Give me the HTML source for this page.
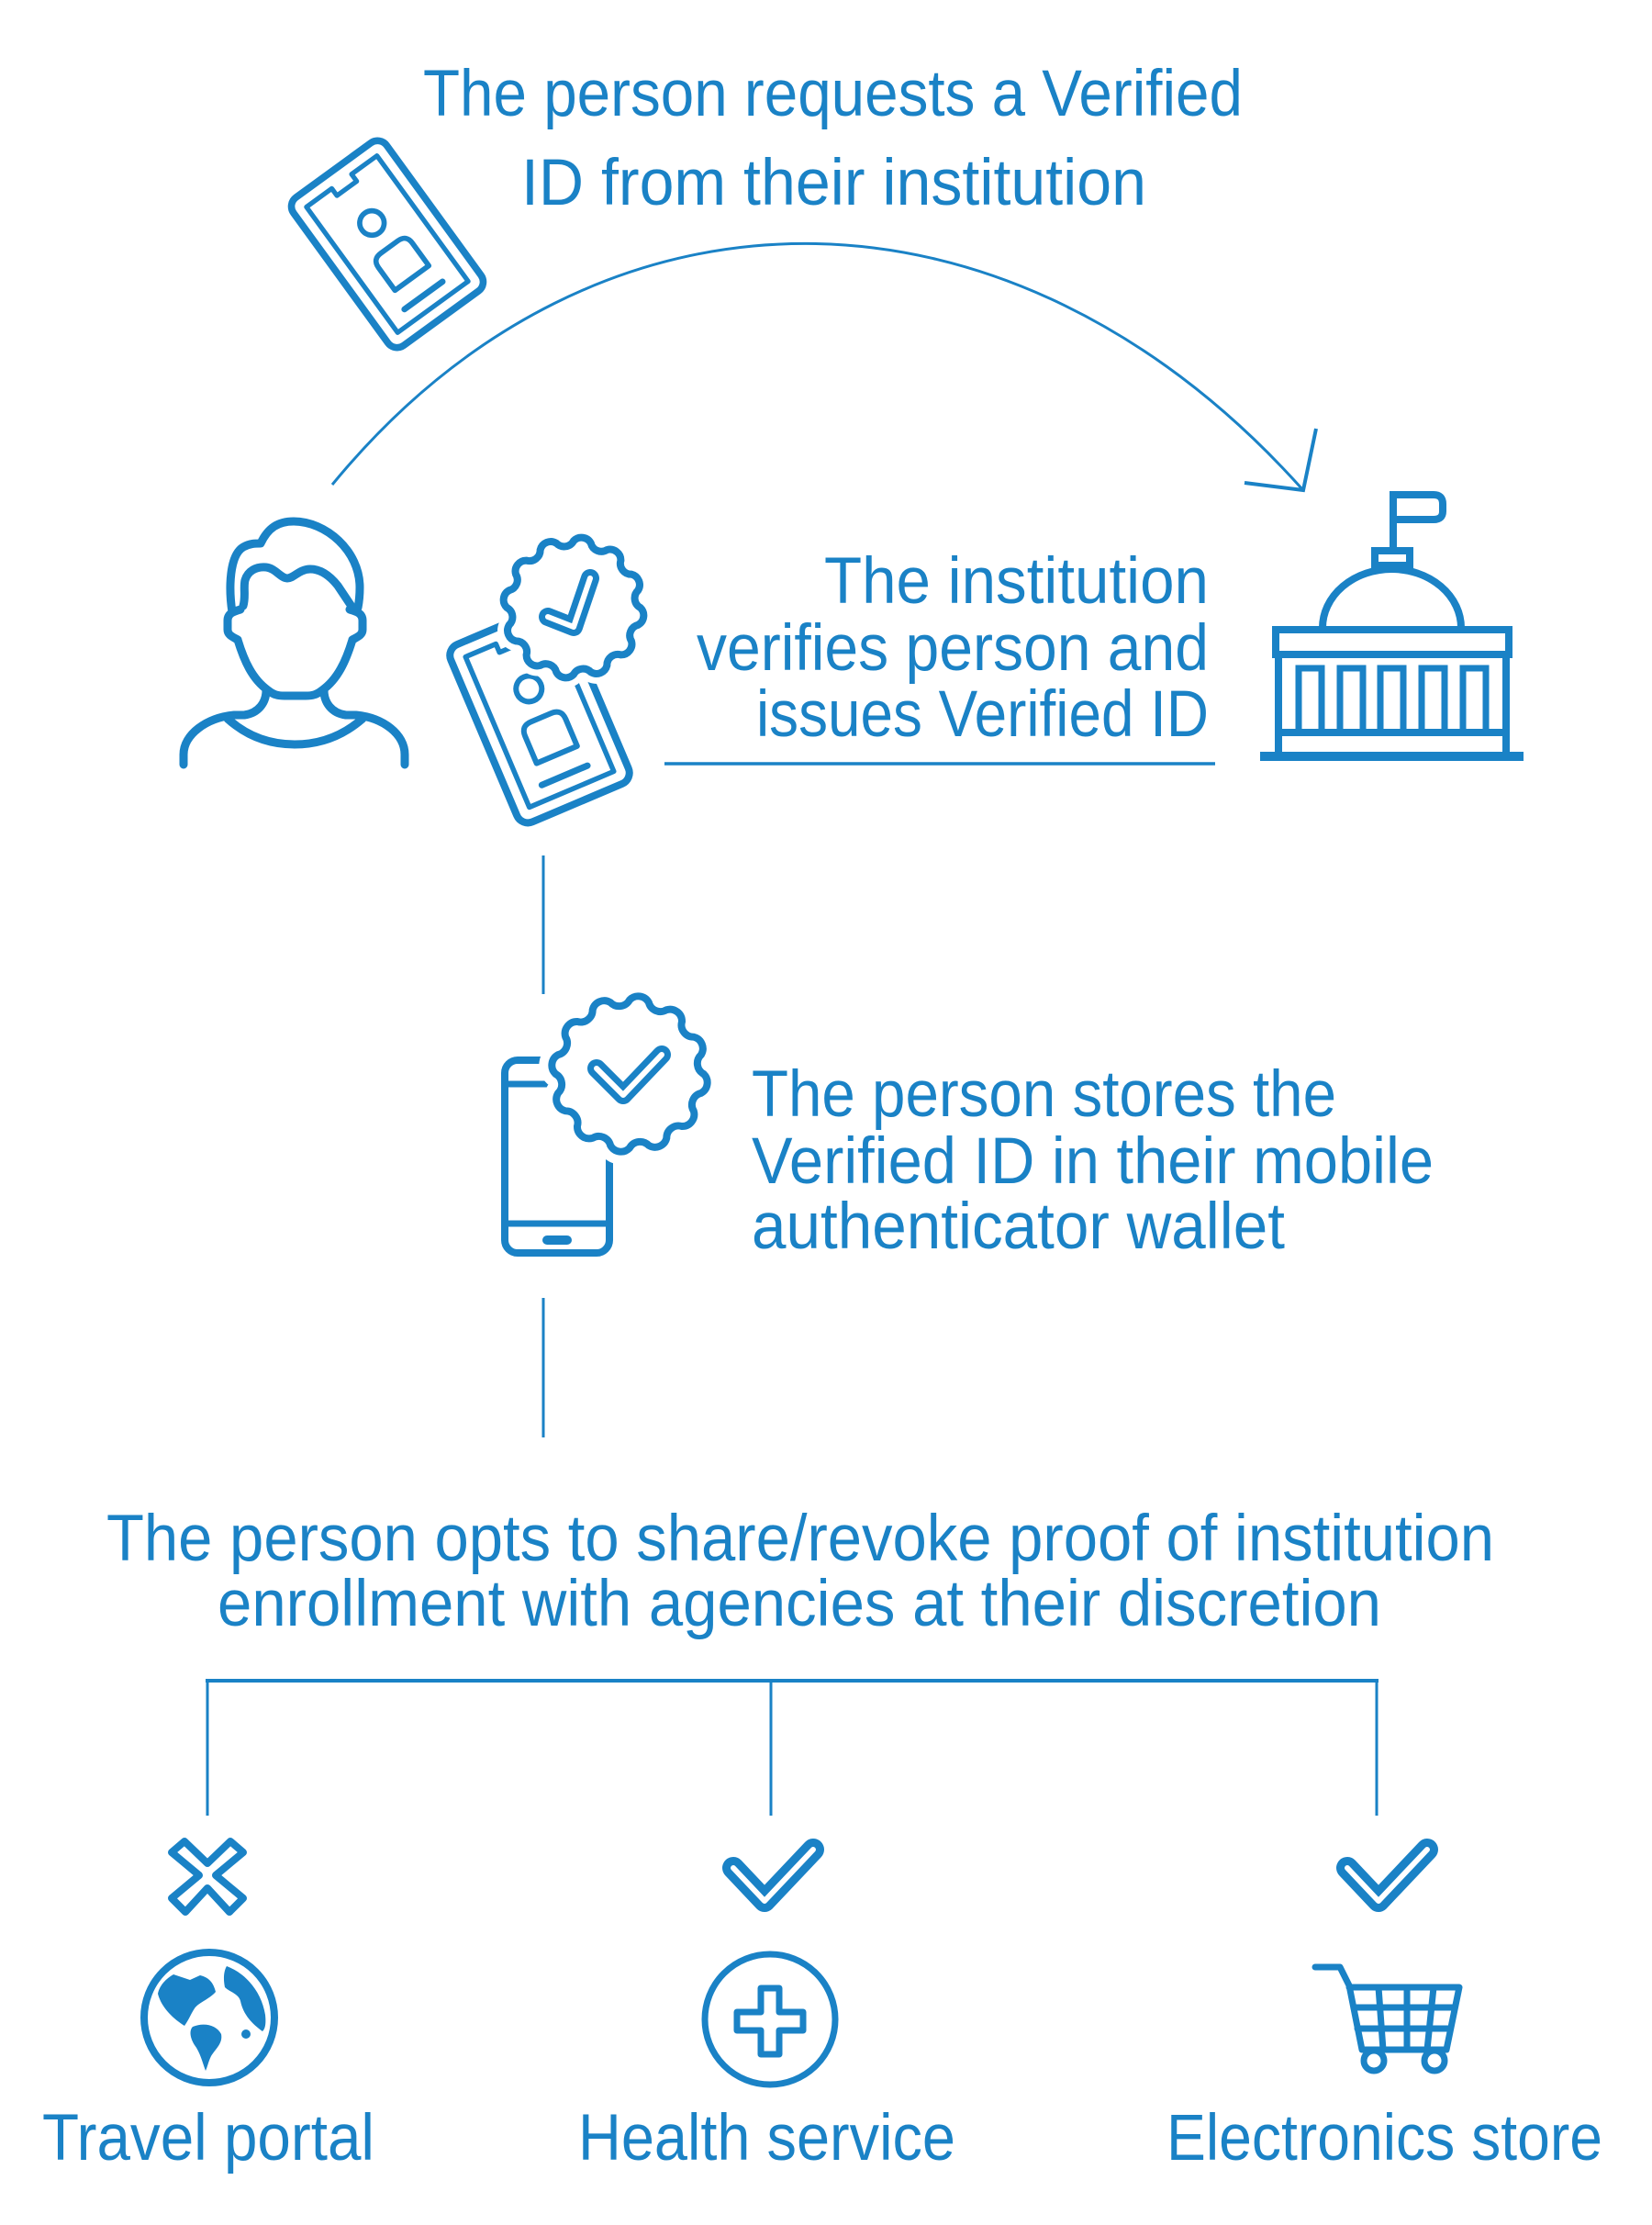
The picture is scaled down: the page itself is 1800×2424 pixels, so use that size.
<!DOCTYPE html>
<html>
<head>
<meta charset="utf-8">
<style>
  html,body{margin:0;padding:0;background:#ffffff;}
  svg{display:block;}
  text{font-family:"Liberation Sans",sans-serif;font-size:71px;fill:#1a82c6;}
</style>
</head>
<body>
<svg width="1800" height="2424" viewBox="0 0 1800 2424" xmlns="http://www.w3.org/2000/svg">
<defs>
  <path id="scal" d="M68,0 A11,11 0 0 1 65.68,17.60 A11,11 0 0 0 58.89,34 A11,11 0 0 1 48.08,48.08 A11,11 0 0 0 34,58.89 A11,11 0 0 1 17.60,65.68 A11,11 0 0 0 0,68 A11,11 0 0 1 -17.60,65.68 A11,11 0 0 0 -34,58.89 A11,11 0 0 1 -48.08,48.08 A11,11 0 0 0 -58.89,34 A11,11 0 0 1 -65.68,17.60 A11,11 0 0 0 -68,0 A11,11 0 0 1 -65.68,-17.60 A11,11 0 0 0 -58.89,-34 A11,11 0 0 1 -48.08,-48.08 A11,11 0 0 0 -34,-58.89 A11,11 0 0 1 -17.60,-65.68 A11,11 0 0 0 0,-68 A11,11 0 0 1 17.60,-65.68 A11,11 0 0 0 34,-58.89 A11,11 0 0 1 48.08,-48.08 A11,11 0 0 0 58.89,-34 A11,11 0 0 1 65.68,-17.60 A11,11 0 0 0 68,0 Z"/>
  <g id="card" fill="none" stroke="#1a82c6" stroke-linecap="round" stroke-linejoin="round">
    <rect x="-66" y="-105" width="132" height="210" rx="13" stroke-width="8"/>
    <path d="M-50,-89 H-14 V-79 H14 V-89 H50 V89 H-50 Z" stroke-width="5.5"/>
    <circle cx="0" cy="-30" r="14" stroke-width="6"/>
    <path d="M-24,48 V16 Q-24,4 -12,4 H12 Q24,4 24,16 V48 Z" stroke-width="6"/>
    <path d="M-28,72 H26" stroke-width="7"/>
  </g>
</defs>

<!-- Top text -->
<text x="461" y="126" textLength="893" lengthAdjust="spacingAndGlyphs">The person requests a Verified</text>
<text x="568" y="223" textLength="681" lengthAdjust="spacingAndGlyphs">ID from their institution</text>

<!-- Top-left ID card -->
<use href="#card" transform="translate(422,266) rotate(-36) scale(0.95)"/>

<!-- Arc arrow -->
<path d="M362,528 C650,177 1100,177 1419,533" fill="none" stroke="#1a82c6" stroke-width="3"/>
<polyline points="1356,526 1420,534 1434,467" fill="none" stroke="#1a82c6" stroke-width="4"/>

<!-- Person icon -->
<g fill="none" stroke="#1a82c6" stroke-width="9" stroke-linecap="round" stroke-linejoin="round">
  <path d="M253,667 C249,640 250,605 265,596 C272,592 278,592 284,592 C292,575 303,568 320,568 C355,568 392,600 392,640 C392,650 391,657 390,662"/>
  <path d="M265,660 C268,650 265,640 267,632 C270,622 279,617 290,618 C300,619 306,630 313,630 C320,630 326,620 338,620 C350,620 360,628 368,638 L384,662"/>
  <path d="M262,664 C255,666 248,668 248,676 L248,686 C248,692 254,694 259,697"/>
  <path d="M381,664 C388,666 395,668 395,676 L395,686 C395,692 389,694 384,697"/>
  <path d="M259,697 C266,720 275,740 292,752 C298,757 303,758 310,758 L333,758 C340,758 345,757 351,752 C368,740 377,720 384,697"/>
  <path d="M290,752 C290,765 282,777 266,779"/>
  <path d="M353,752 C353,765 361,777 377,779"/>
  <path d="M266,779 L255,779 C225,782 200,800 200,822 L200,833"/>
  <path d="M377,779 L388,779 C418,782 441,800 441,822 L441,833"/>
  <path d="M248,783 C270,803 295,811 321,811 C347,811 372,803 395,783"/>
</g>

<!-- Middle card with badge -->
<use href="#card" transform="translate(588,778) rotate(-23)"/>
<g transform="translate(625,662) scale(1.069)">
  <use href="#scal" fill="#ffffff" stroke="#ffffff" stroke-width="20.6"/>
  <use href="#scal" fill="none" stroke="#1a82c6" stroke-width="7.5"/>
</g>
<polyline points="597,672 625,683 643,630" fill="none" stroke="#1a82c6" stroke-width="20" stroke-linecap="round" stroke-linejoin="round"/>
<polyline points="597,672 625,683 643,630" fill="none" stroke="#ffffff" stroke-width="6" stroke-linecap="round" stroke-linejoin="round"/>

<!-- Institution text -->
<text x="898" y="657" textLength="419" lengthAdjust="spacingAndGlyphs">The institution</text>
<text x="759" y="730" textLength="558" lengthAdjust="spacingAndGlyphs">verifies person and</text>
<text x="824" y="802" textLength="493" lengthAdjust="spacingAndGlyphs">issues Verified ID</text>
<line x1="724" y1="832" x2="1324" y2="832" stroke="#1a82c6" stroke-width="3.5"/>

<!-- Building -->
<g fill="none" stroke="#1a82c6" stroke-width="8" stroke-linejoin="miter">
  <path d="M1518,598 V539 H1562 Q1572,539 1572,549 V557 Q1572,566 1562,566 H1518"/>
  <rect x="1498" y="600" width="38" height="16"/>
  <path d="M1441,684 A75.5,64 0 0 1 1592,684"/>
  <rect x="1390" y="686" width="254" height="27"/>
  <path d="M1393,713 V822 M1641,713 V822"/>
  <line x1="1393" y1="798" x2="1641" y2="798"/>
  <g stroke-width="7">
    <path d="M1415,798 V728 H1440 V798"/>
    <path d="M1460,798 V728 H1485 V798"/>
    <path d="M1504,798 V728 H1529 V798"/>
    <path d="M1549,798 V728 H1574 V798"/>
    <path d="M1594,798 V728 H1619 V798"/>
  </g>
  <line x1="1373" y1="824" x2="1660" y2="824" stroke-width="10"/>
</g>

<!-- Connector 1 -->
<line x1="592" y1="932" x2="592" y2="1083" stroke="#1a82c6" stroke-width="3"/>

<!-- Phone with badge -->
<g fill="none" stroke="#1a82c6" stroke-width="8">
  <rect x="550" y="1155" width="114" height="210" rx="14"/>
  <line x1="550" y1="1333" x2="664" y2="1333" stroke-width="7"/>
  <line x1="550" y1="1181" x2="664" y2="1181" stroke-width="7"/>
</g>
<rect x="591" y="1346" width="32" height="10" rx="5" fill="#1a82c6"/>
<g transform="translate(686,1170) scale(1.186)">
  <use href="#scal" fill="#ffffff" stroke="#ffffff" stroke-width="23.6"/>
  <use href="#scal" fill="none" stroke="#1a82c6" stroke-width="6.7"/>
</g>
<polyline points="650,1164 679,1193 721,1149" fill="none" stroke="#1a82c6" stroke-width="20" stroke-linecap="round" stroke-linejoin="round"/>
<polyline points="650,1164 679,1193 721,1149" fill="none" stroke="#ffffff" stroke-width="6" stroke-linecap="round" stroke-linejoin="round"/>

<text x="819" y="1216" textLength="637" lengthAdjust="spacingAndGlyphs">The person stores the</text>
<text x="819" y="1289" textLength="743" lengthAdjust="spacingAndGlyphs">Verified ID in their mobile</text>
<text x="819" y="1360" textLength="581" lengthAdjust="spacingAndGlyphs">authenticator wallet</text>

<!-- Connector 2 -->
<line x1="592" y1="1414" x2="592" y2="1566" stroke="#1a82c6" stroke-width="3"/>

<!-- Bottom text -->
<text x="116" y="1700" textLength="1512" lengthAdjust="spacingAndGlyphs">The person opts to share/revoke proof of institution</text>
<text x="237" y="1771" textLength="1268" lengthAdjust="spacingAndGlyphs">enrollment with agencies at their discretion</text>

<!-- Tree connectors -->
<g stroke="#1a82c6" fill="none">
  <line x1="224" y1="1831" x2="1502" y2="1831" stroke-width="4"/>
  <line x1="226" y1="1831" x2="226" y2="1978" stroke-width="3"/>
  <line x1="840" y1="1831" x2="840" y2="1978" stroke-width="3"/>
  <line x1="1500" y1="1831" x2="1500" y2="1978" stroke-width="3"/>
</g>

<!-- X mark (outlined) -->
<polygon points="201,2006 226,2030 251,2006 265,2018 235,2043 265,2068 250,2083 226,2057 202,2083 187,2068 217,2043 187,2018" fill="none" stroke="#1a82c6" stroke-width="8" stroke-linejoin="round"/>

<!-- Check marks -->
<g fill="none" stroke-linecap="round" stroke-linejoin="round">
  <polyline points="799,2035 833,2071 886,2015" stroke="#1a82c6" stroke-width="24"/>
  <polyline points="799,2035 833,2071 886,2015" stroke="#ffffff" stroke-width="6"/>
  <polyline points="1468,2035 1502,2071 1555,2015" stroke="#1a82c6" stroke-width="24"/>
  <polyline points="1468,2035 1502,2071 1555,2015" stroke="#ffffff" stroke-width="6"/>
</g>

<!-- Globe -->
<circle cx="228" cy="2198" r="71" fill="none" stroke="#1a82c6" stroke-width="8"/>
<g fill="#1a82c6">
  <path d="M189,2151 L207,2157 L218,2152 C226,2154 232,2158 235,2170 C228,2178 216,2182 212,2188 C208,2194 206,2200 201,2207 C190,2200 176,2188 172,2172 C174,2162 182,2155 189,2151 Z"/>
  <path d="M247,2142 C268,2150 285,2170 289,2195 C290,2205 289,2210 286,2213 C275,2205 265,2195 262,2180 C260,2172 250,2170 245,2165 C243,2155 244,2147 247,2142 Z"/>
  <path d="M210,2208 C222,2203 236,2206 241,2216 C243,2226 235,2232 230,2240 C227,2246 226,2252 224,2256 C220,2245 218,2236 212,2228 C207,2220 206,2212 210,2208 Z"/>
  <circle cx="268" cy="2216" r="5"/>
</g>

<!-- Health -->
<circle cx="839" cy="2200" r="71" fill="none" stroke="#1a82c6" stroke-width="7"/>
<path d="M829,2166 L849,2166 L849,2192 L875,2192 L875,2212 L849,2212 L849,2238 L829,2238 L829,2212 L803,2212 L803,2192 L829,2192 Z" fill="none" stroke="#1a82c6" stroke-width="7" stroke-linejoin="round"/>

<!-- Cart -->
<g fill="none" stroke="#1a82c6" stroke-width="7" stroke-linecap="round" stroke-linejoin="round">
  <path d="M1433,2143 L1460,2143 L1470,2163 L1484,2233 L1576,2233 L1590,2165 L1470,2165"/>
  <line x1="1475" y1="2187" x2="1585" y2="2187"/>
  <line x1="1479" y1="2210" x2="1580" y2="2210"/>
  <line x1="1502" y1="2165" x2="1507" y2="2233"/>
  <line x1="1533" y1="2165" x2="1533" y2="2233"/>
  <line x1="1562" y1="2165" x2="1555" y2="2233"/>
  <circle cx="1497" cy="2245" r="11"/>
  <circle cx="1563" cy="2245" r="11"/>
</g>

<!-- Labels -->
<text x="46" y="2353" font-size="70" textLength="362" lengthAdjust="spacingAndGlyphs">Travel portal</text>
<text x="630" y="2353" font-size="70" textLength="411" lengthAdjust="spacingAndGlyphs">Health service</text>
<text x="1271" y="2353" font-size="70" textLength="475" lengthAdjust="spacingAndGlyphs">Electronics store</text>
</svg>
</body>
</html>
